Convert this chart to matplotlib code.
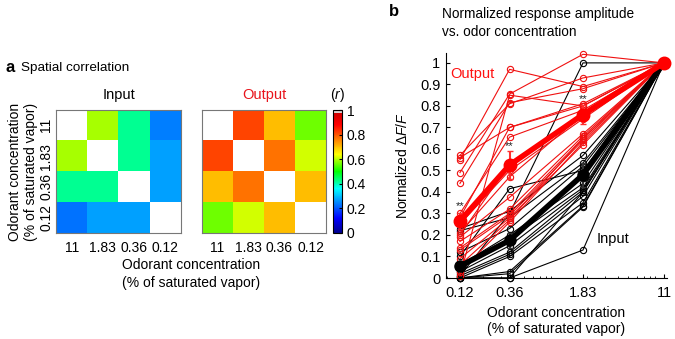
import numpy as np
import matplotlib
matplotlib.use("Agg")
import matplotlib.pyplot as plt
from matplotlib.colors import LinearSegmentedColormap

plt.rcParams["font.family"] = ["Liberation Sans", "DejaVu Sans"]
plt.rcParams["mathtext.fontset"] = "custom"
plt.rcParams["mathtext.rm"] = "Liberation Sans"
plt.rcParams["mathtext.it"] = "Liberation Sans:italic"

# panel a: spatial correlation matrices (rows/cols: 11, 1.83, 0.36, 0.12)
conc_labels = ["11", "1.83", "0.36", "0.12"]
corr_input = [
    [1.00, 0.59, 0.42, 0.24],
    [0.59, 1.00, 0.42, 0.27],
    [0.42, 0.42, 1.00, 0.27],
    [0.23, 0.27, 0.27, 1.00],
]
corr_output = [
    [1.00, 0.815, 0.70, 0.56],
    [0.815, 1.00, 0.77, 0.615],
    [0.70, 0.77, 1.00, 0.70],
    [0.56, 0.615, 0.70, 1.00],
]

# panel b: normalized response amplitude
conc = [0.12, 0.36, 1.83, 11]
conc_ticklabels = ["0.12", "0.36", "1.83", "11"]
output_traces = [
    [0.57, 0.81, 0.93, 1],
    [0.56, 0.70, 0.80, 1],
    [0.55, 0.97, 0.89, 1],
    [0.49, 0.855, 1.04, 1],
    [0.44, 0.815, 0.88, 1],
    [0.30, 0.655, 0.78, 1],
    [0.28, 0.70, 0.81, 1],
    [0.25, 0.50, 0.74, 1],
    [0.21, 0.47, 0.76, 1],
    [0.20, 0.53, 0.75, 1],
    [0.19, 0.375, 0.67, 1],
    [0.17, 0.32, 0.66, 1],
    [0.14, 0.30, 0.65, 1],
    [0.13, 0.29, 0.64, 1],
    [0.09, 0.28, 0.62, 1],
    [0.06, 0.27, 0.65, 1],
    [0.03, 0.26, 0.63, 1],
    [0.01, 0.85, 0.80, 1],
]
input_traces = [
    [0.01, 0.30, 1.00, 1],
    [0.23, 0.31, 0.57, 1],
    [0.22, 0.28, 0.535, 1],
    [0.12, 0.23, 0.52, 1],
    [0.10, 0.415, 0.50, 1],
    [0.06, 0.20, 0.44, 1],
    [0.05, 0.18, 0.42, 1],
    [0.03, 0.15, 0.41, 1],
    [0.02, 0.12, 0.40, 1],
    [0.01, 0.11, 0.38, 1],
    [0.00, 0.10, 0.35, 1],
    [0.00, 0.03, 0.335, 1],
    [0.00, 0.02, 0.33, 1],
    [0.00, 0.00, 0.13, 1],
    [0.00, 0.00, 0.40, 1],
]
output_mean = [0.265, 0.525, 0.76, 1]
output_sem = [0.035, 0.065, 0.045, 0]
input_mean = [0.055, 0.175, 0.48, 1]
input_sem = [0.02, 0.035, 0.055, 0]
star_y = [0.335, 0.615, 0.83]

W, H = 675, 339
fig = plt.figure(figsize=(W / 100, H / 100), dpi=100)


def ax_px(x0, y0, x1, y1):
    return fig.add_axes([x0 / W, 1 - y1 / H, (x1 - x0) / W, (y1 - y0) / H])


# saturated jet-like map as in the figure, light cap at the top
cmap = LinearSegmentedColormap.from_list("satjet", [
    (0.0, (0, 0, 0.55)), (0.12, (0, 0, 1)), (0.36, (0, 1, 1)),
    (0.5, (0, 1, 0)), (0.64, (1, 1, 0)), (0.88, (1, 0, 0)),
    (0.975, (0.82, 0, 0)), (0.976, (0.86, 0.82, 0.82)), (1.0, (0.86, 0.82, 0.82))])
cmap.set_bad("white")

ax_in = ax_px(56, 110, 181, 233)
ax_out = ax_px(202, 110, 326, 233)
for ax, data, title, tcol in [(ax_in, corr_input, "Input", "black"),
                               (ax_out, corr_output, "Output", "#e8141c")]:
    m = np.array(data, dtype=float)
    m[np.eye(4, dtype=bool)] = np.nan
    im = ax.imshow(m, cmap=cmap, vmin=0, vmax=1, aspect="auto")
    ax.set_xticks(range(4))
    ax.set_xticklabels(conc_labels, fontsize=10)
    ax.set_yticks(range(4))
    ax.tick_params(axis="x", length=0, pad=6)
    ax.tick_params(axis="y", length=0, pad=2)
    for s in ax.spines.values():
        s.set_color("#777777")
        s.set_linewidth(0.8)
    ax.set_title(title, color=tcol, fontsize=10.5, pad=8)
ax_in.set_yticklabels(conc_labels, fontsize=10, rotation=90, va="center")
ax_out.set_yticklabels([])
ax_in.set_ylabel("Odorant concentration\n(% of saturated vapor)", fontsize=10, labelpad=1)

cax = ax_px(333, 110, 342, 233)
cb = fig.colorbar(im, cax=cax, ticks=[0, 0.2, 0.4, 0.6, 0.8, 1])
cb.ax.set_yticklabels(["0", "0.2", "0.4", "0.6", "0.8", "1"], fontsize=10)
cb.ax.tick_params(length=2, direction="in")
cb.outline.set_linewidth(0.8)
fig.text(338 / W, 1 - 95 / H, "($\\it{r}$)", fontsize=10, ha="center", va="center")

fig.text(6 / W, 1 - 68 / H, "a", fontsize=12, fontweight="bold", va="center")
fig.text(21 / W, 1 - 68 / H, "Spatial correlation", fontsize=9.7, va="center")
fig.text(191 / W, 1 - 265 / H, "Odorant concentration", fontsize=10, ha="center", va="center")
fig.text(191 / W, 1 - 283 / H, "(% of saturated vapor)", fontsize=10, ha="center", va="center")

# panel b
ax = ax_px(446, 53, 667, 278)
for tr in input_traces:
    ax.plot(conc, tr, color="black", lw=0.8, marker="o", ms=4.5, mfc="none",
            mew=0.8, clip_on=False)
for tr in output_traces:
    ax.plot(conc, tr, color="#f01010", lw=0.8, marker="o", ms=4.5, mfc="none",
            mew=0.8, clip_on=False)
ax.errorbar(conc, input_mean, yerr=input_sem, color="black", lw=4, marker="o",
            ms=8, ecolor="#333333", elinewidth=1.5, capsize=2, clip_on=False)
ax.errorbar(conc, output_mean, yerr=output_sem, color="#ff0000", lw=4, marker="o",
            ms=9, ecolor="#ff3030", elinewidth=1.5, capsize=2, clip_on=False)
for x, y in zip(conc[:3], star_y):
    ax.text(x, y, "**", fontsize=8, ha="center", va="center", color="#222222")

ax.set_xscale("log")
ax.set_xlim(0.0881, 11.76)
ax.set_ylim(0, 1.046)
ax.set_xticks(conc)
ax.set_xticklabels(conc_ticklabels, fontsize=10.5)
ax.set_yticks(np.arange(0, 1.01, 0.1))
ax.set_yticklabels(["0", "0.1", "0.2", "0.3", "0.4", "0.5", "0.6", "0.7", "0.8", "0.9", "1"],
                   fontsize=10.5)
ax.tick_params(direction="in", length=3, pad=4)
ax.tick_params(axis="x", pad=6)
ax.tick_params(which="minor", direction="in", length=1.5)
ax.spines["top"].set_visible(False)
ax.spines["right"].set_visible(False)
ax.set_ylabel("Normalized $\\Delta\\it{F}/\\it{F}$", fontsize=10, labelpad=7)
ax.set_xlabel("Odorant concentration\n(% of saturated vapor)", fontsize=10, labelpad=4)
ax.text(0.0964, 0.95, "Output", color="#ff1010", fontsize=10.5, va="center")
ax.text(2.5, 0.18, "Input", color="black", fontsize=10.5, va="center")

fig.text(389 / W, 1 - 12 / H, "b", fontsize=12, fontweight="bold", va="center")
fig.text(442 / W, 1 - 14 / H, "Normalized response amplitude", fontsize=9.8, va="center")
fig.text(442 / W, 1 - 32 / H, "vs. odor concentration", fontsize=9.8, va="center")

fig.savefig("out.png", dpi=100)
